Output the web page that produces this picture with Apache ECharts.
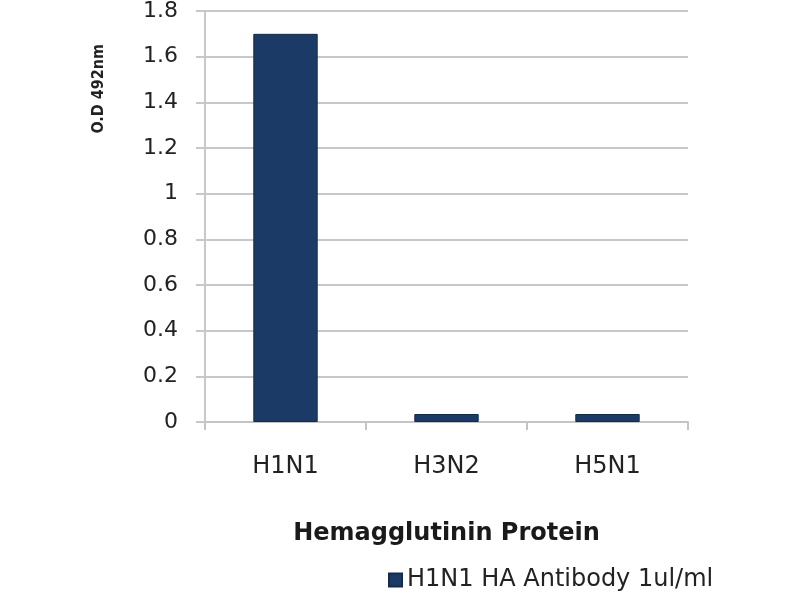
<!DOCTYPE html>
<html>
<head>
<meta charset="utf-8">
<script src="https://cdn.jsdelivr.net/npm/echarts@6/dist/echarts.min.js"></script>
<style>
  html, body { margin: 0; padding: 0; background: #fff; }
  #main { width: 800px; height: 600px; }
</style>
</head>
<body>
<div id="main"></div>
<script>
const categories = ['H1N1', 'H3N2', 'H5N1'];
const odValues = [1.7, 0.035, 0.035];
const seriesName = 'H1N1 HA Antibody 1ul/ml';

const chart = echarts.init(document.getElementById('main'));

const option = {
  animation: false,
  textStyle: { fontFamily: 'DejaVu Sans' },
  grid: { left: 205, right: 112, top: 10, bottom: 178 },
  legend: {
    data: [seriesName],
    left: 383,
    top: 563,
    icon: 'rect',
    itemWidth: 13,
    itemHeight: 13,
    itemGap: 4,
    textStyle: { fontSize: 24, color: '#222', fontFamily: 'DejaVu Sans' }
  },
  graphic: [
    {
      type: 'text',
      left: 91,
      top: 44,
      rotation: Math.PI / 2,
      style: {
        text: 'O.D 492nm',
        fontSize: 16,
        fontWeight: 'bold',
        fontFamily: 'DejaVu Sans Condensed, Liberation Sans, sans-serif',
        fill: '#222'
      }
    }
  ],
  xAxis: {
    type: 'category',
    data: categories,
    name: 'Hemagglutinin Protein',
    nameLocation: 'middle',
    nameGap: 100,
    nameTextStyle: { fontSize: 24, fontWeight: 'bold', color: '#1a1a1a' },
    axisLine: { lineStyle: { color: '#c4c4c4', width: 2 } },
    axisTick: { show: true, length: 8, lineStyle: { color: '#c4c4c4', width: 2 } },
    axisLabel: { fontSize: 24, color: '#222', margin: 33 }
  },
  yAxis: {
    type: 'value',
    min: 0,
    max: 1.8,
    interval: 0.2,
    axisLine: { show: true, lineStyle: { color: '#c8c8c8', width: 2 } },
    axisTick: { show: true, length: 9, lineStyle: { color: '#c8c8c8', width: 2 } },
    splitLine: { lineStyle: { color: '#c8c8c8', width: 2 } },
    axisLabel: {
      fontSize: 22,
      color: '#222',
      margin: 27,
      formatter: v => String(Math.round(v * 10) / 10)
    }
  },
  series: [
    {
      name: seriesName,
      type: 'bar',
      data: odValues,
      barWidth: '40%',
      itemStyle: { color: '#1c3a66', borderColor: '#142a4c', borderWidth: 1 }
    }
  ]
};

chart.setOption(option);
</script>
</body>
</html>
